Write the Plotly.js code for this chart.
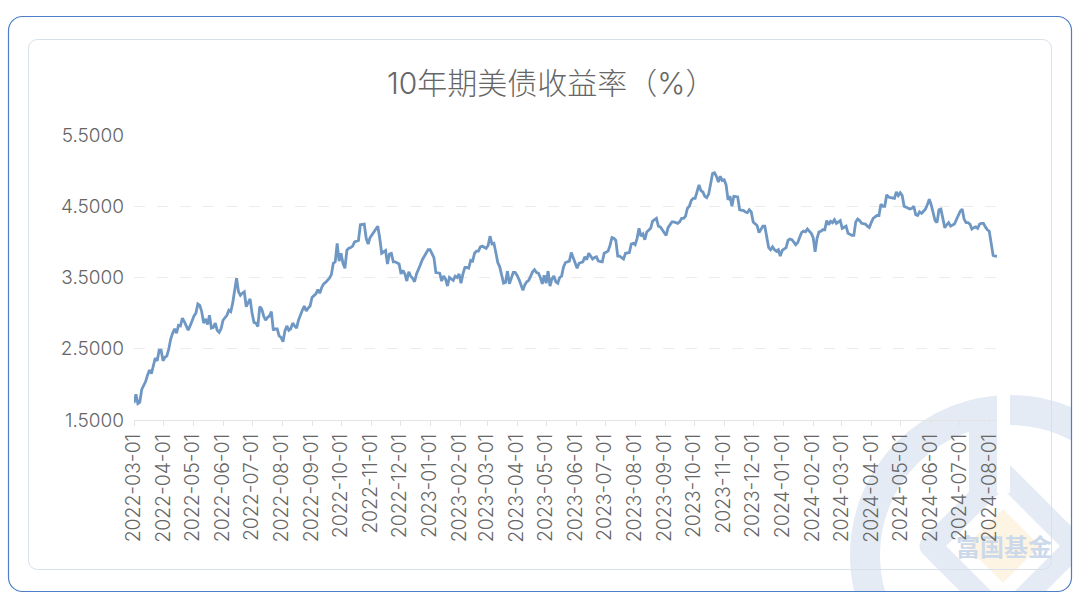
<!DOCTYPE html>
<html>
<head>
<meta charset="utf-8">
<script src="https://cdn.plot.ly/plotly-3.0.1.min.js"></script>
<style>
html,body{margin:0;padding:0;background:#fff;width:1080px;height:614px;overflow:hidden}
#bg{position:absolute;left:0;top:0}
#chart{position:absolute;left:0;top:0;width:1080px;height:614px}
</style>
</head>
<body>
<svg id="bg" width="1080" height="614" xmlns="http://www.w3.org/2000/svg">
  <defs><clipPath id="fr"><rect x="8.5" y="16.5" width="1063" height="575" rx="14"/></clipPath></defs>
  <g clip-path="url(#fr)">
    <circle cx="1010" cy="555" r="145" fill="none" stroke="#e4ebf4" stroke-width="30"/>
    <rect x="969" y="420" width="28" height="75" fill="#e4ebf4"/>
    <path d="M1003 473.5 L1075.5 546 L1003 618.5 L930.5 546 Z" fill="#fff" stroke="#e4ebf4" stroke-width="22" stroke-linejoin="round"/>
    <rect x="997" y="390" width="13" height="103" fill="#fff"/>
    <path d="M1003 509 L1040 546 L1003 583 L966 546 Z" fill="#fdf4e3"/>
    <text x="1004" y="556" text-anchor="middle" font-family="Noto Sans CJK SC" font-weight="700" font-size="24" fill="#ccd9ea">富国基金</text>
  </g>
  <rect x="8.5" y="16.5" width="1063" height="575" rx="14" fill="none" stroke="#4c7fc6" stroke-width="1.2"/>
  <rect x="28.5" y="39.5" width="1023" height="530" rx="9" fill="none" stroke="#d8e0ea" stroke-width="1"/>
</svg>
<div id="chart"></div>
<script>
var startDate = '2022-03-01';
var stepDays = 2;
var yields = [
1.74,1.86,1.73,1.75,1.93,1.98,2.04,2.13,2.20,2.15,2.27,2.37,2.33,2.48,2.48,2.33,2.38,2.40,2.50,2.64,
2.72,2.78,2.72,2.83,2.82,2.93,2.88,2.83,2.76,2.82,2.90,2.96,3.00,3.13,3.11,3.02,2.86,2.92,2.84,2.97,
2.79,2.80,2.86,2.76,2.73,2.78,2.90,2.94,2.97,3.04,3.02,3.14,3.32,3.49,3.30,3.25,3.28,3.30,3.09,3.15,
3.20,3.00,2.87,2.86,2.81,3.09,3.06,2.96,2.90,2.94,2.96,3.02,2.76,2.78,2.78,2.68,2.66,2.60,2.75,2.82,
2.76,2.78,2.86,2.82,2.79,2.90,2.98,3.04,3.10,3.03,3.07,3.10,3.22,3.24,3.27,3.33,3.28,3.36,3.41,3.43,
3.46,3.49,3.54,3.70,3.72,3.98,3.73,3.84,3.70,3.63,3.88,3.91,3.92,3.94,4.00,4.01,4.02,4.24,4.24,4.25,
4.05,3.97,4.06,4.10,4.14,4.19,4.22,4.05,3.84,3.86,3.88,3.69,3.83,3.84,3.72,3.72,3.71,3.69,3.55,3.60,
3.55,3.45,3.58,3.52,3.49,3.44,3.55,3.63,3.68,3.75,3.80,3.86,3.89,3.89,3.84,3.78,3.57,3.56,3.56,3.45,
3.52,3.48,3.38,3.50,3.48,3.46,3.52,3.50,3.55,3.42,3.55,3.64,3.64,3.63,3.74,3.73,3.84,3.87,3.87,3.93,
3.94,3.93,3.91,3.95,4.08,3.97,3.98,3.85,3.71,3.65,3.55,3.42,3.43,3.59,3.41,3.50,3.57,3.57,3.53,3.47,
3.40,3.32,3.40,3.44,3.46,3.52,3.58,3.61,3.57,3.56,3.50,3.41,3.53,3.42,3.59,3.38,3.48,3.52,3.44,3.42,
3.50,3.52,3.65,3.71,3.72,3.73,3.85,3.78,3.72,3.63,3.70,3.71,3.72,3.79,3.75,3.84,3.80,3.76,3.78,3.79,
3.73,3.73,3.72,3.84,3.85,3.87,3.95,4.06,4.05,4.02,3.80,3.80,3.78,3.76,3.84,3.84,3.85,3.97,3.98,3.96,
4.05,4.19,4.08,4.11,4.03,4.14,4.17,4.19,4.29,4.31,4.33,4.22,4.21,4.17,4.12,4.09,4.20,4.24,4.28,4.28,
4.27,4.26,4.28,4.33,4.33,4.36,4.47,4.50,4.58,4.61,4.61,4.72,4.80,4.72,4.70,4.64,4.62,4.67,4.82,4.96,
4.97,4.92,4.84,4.92,4.86,4.87,4.80,4.59,4.64,4.50,4.64,4.63,4.63,4.45,4.45,4.44,4.42,4.41,4.45,4.42,
4.28,4.26,4.23,4.13,4.18,4.22,4.22,4.05,3.92,3.89,3.93,3.89,3.87,3.89,3.80,3.88,3.90,3.92,4.02,4.04,
4.03,3.99,3.96,3.99,4.07,4.13,4.15,4.14,4.18,4.15,4.12,4.06,3.86,4.05,4.14,4.15,4.17,4.17,4.30,4.24,
4.29,4.27,4.31,4.26,4.28,4.30,4.19,4.21,4.22,4.12,4.10,4.09,4.09,4.28,4.32,4.30,4.26,4.25,4.25,4.22,
4.20,4.27,4.33,4.35,4.37,4.37,4.53,4.50,4.50,4.66,4.63,4.62,4.61,4.61,4.70,4.65,4.69,4.65,4.50,4.49,
4.48,4.46,4.47,4.50,4.38,4.37,4.42,4.40,4.43,4.46,4.52,4.60,4.52,4.40,4.30,4.27,4.45,4.46,4.35,4.20,
4.24,4.27,4.22,4.24,4.25,4.31,4.38,4.43,4.46,4.32,4.27,4.27,4.25,4.18,4.20,4.21,4.19,4.25,4.26,4.26,
4.21,4.17,4.15,4.00,3.81,3.80,3.80
];
var monthTicks = ['2022-03-01','2022-04-01','2022-05-01','2022-06-01','2022-07-01','2022-08-01','2022-09-01','2022-10-01','2022-11-01','2022-12-01',
'2023-01-01','2023-02-01','2023-03-01','2023-04-01','2023-05-01','2023-06-01','2023-07-01','2023-08-01','2023-09-01','2023-10-01','2023-11-01','2023-12-01',
'2024-01-01','2024-02-01','2024-03-01','2024-04-01','2024-05-01','2024-06-01','2024-07-01','2024-08-01'];
var yTicks = [1.5,2.5,3.5,4.5,5.5];
var yTickLabels = ['1.5000','2.5000','3.5000','4.5000','5.5000'];
var chartTitle = '10年期美债收益率（%）';

var dates = yields.map(function(_, i){
  var d = new Date(Date.parse(startDate + 'T00:00:00Z') + i * stepDays * 86400000);
  return d.toISOString().slice(0, 10);
});
var FONT = 'Inter,"Liberation Sans","Noto Sans CJK SC",sans-serif';

Plotly.newPlot('chart', [{
  x: dates, y: yields, type: 'scatter', mode: 'lines',
  line: {color: '#6f97c3', width: 2.8, shape: 'linear'},
  hoverinfo: 'x+y'
}], {
  width: 1080, height: 614,
  paper_bgcolor: 'rgba(0,0,0,0)', plot_bgcolor: 'rgba(0,0,0,0)',
  margin: {l: 134, r: 83, t: 135, b: 194, pad: 0},
  showlegend: false,
  title: {text: chartTitle, x: 387/1080, xref: 'container', xanchor: 'left',
          y: 1 - 83/614, yref: 'container', yanchor: 'middle',
          font: {family: 'Inter,"Noto Sans CJK SC",sans-serif', size: 30, color: '#666666', weight: 300}},
  xaxis: {
    type: 'date', range: [dates[0], dates[dates.length-1]],
    tickmode: 'array', tickvals: monthTicks, ticktext: monthTicks,
    tickangle: -90, ticks: 'outside', ticklen: 5, tickcolor: '#e4e4e4', tickwidth: 1,
    showline: true, linecolor: '#e4e4e4', linewidth: 1,
    showgrid: false, zeroline: false,
    tickfont: {family: FONT, size: 19.4, color: '#666666', weight: 300}
  },
  yaxis: {
    range: [1.5, 5.5], tickmode: 'array', tickvals: yTicks, ticktext: yTickLabels,
    showline: false, zeroline: false, ticks: '', ticklabelstandoff: 9,
    showgrid: true, gridcolor: '#ececec', gridwidth: 1, griddash: '11px,12px',
    tickfont: {family: FONT, size: 19, color: '#666666', weight: 300}
  }
}, {staticPlot: true, displayModeBar: false});
</script>
</body>
</html>
